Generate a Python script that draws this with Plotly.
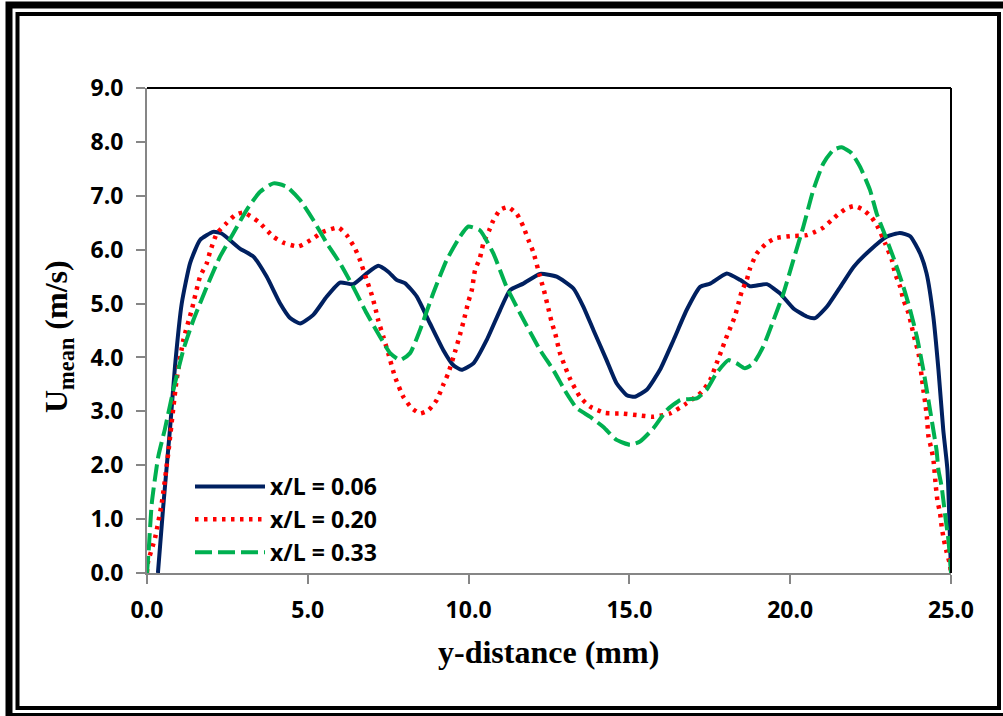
import plotly.graph_objects as go

# ---- data ----
x_006 = [0.34, 0.5, 0.72, 0.87, 1.08, 1.34, 1.65, 2.06, 2.32, 2.89, 3.31, 3.72, 4.14, 4.45, 4.76, 5.17,
         5.59, 6.0, 6.41, 6.83, 7.19, 7.50, 7.76, 8.02, 8.39, 8.80, 9.21, 9.52, 9.78, 10.15, 10.56,
         10.98, 11.29, 11.70, 12.22, 12.74, 13.26, 13.57, 13.88, 14.29, 14.60, 14.92, 15.17, 15.54,
         15.95, 16.37, 16.78, 17.20, 17.51, 18.03, 18.44, 18.75, 19.27, 19.68, 20.10, 20.51, 20.77,
         21.14, 21.56, 21.97, 22.48, 23.0, 23.41, 23.73, 24.04, 24.24, 24.45, 24.61, 24.76, 24.89, 25.0]
u_006 = [0.0, 1.2, 2.71, 3.83, 5.0, 5.75, 6.18, 6.33, 6.30, 6.02, 5.87, 5.50, 5.0, 4.73, 4.63, 4.79,
         5.13, 5.39, 5.36, 5.56, 5.70, 5.59, 5.44, 5.38, 5.13, 4.63, 4.14, 3.86, 3.77, 3.89, 4.32,
         4.88, 5.25, 5.37, 5.55, 5.50, 5.28, 4.94, 4.51, 3.95, 3.52, 3.30, 3.27, 3.40,
         3.77, 4.32, 4.88, 5.31, 5.37, 5.56, 5.44, 5.32, 5.36, 5.19, 4.91, 4.76, 4.73,
         4.94, 5.31, 5.68, 5.99, 6.24, 6.31, 6.25, 5.93, 5.56, 4.76, 3.77, 2.65, 1.91, 0.0]

x_020 = [0.0, 0.03, 0.25, 0.46, 0.66, 0.92, 1.13, 1.39, 1.65, 1.86, 1.96, 2.17, 2.47, 2.74, 3.0, 3.46,
         3.93, 4.24, 4.71, 5.17, 5.48, 5.95, 6.21, 6.47, 6.62, 6.83, 6.99, 7.09, 7.19, 7.35, 7.50,
         7.71, 7.97, 8.23, 8.49, 8.75, 9.01, 9.21, 9.37, 9.58, 9.73, 9.84, 9.99, 10.10, 10.20, 10.35,
         10.46, 10.64, 10.75, 10.98, 11.23, 11.50, 11.70, 11.86, 12.01, 12.22, 12.34, 12.48, 12.58,
         12.69, 12.84, 13.0, 13.15, 13.46, 13.77, 14.24, 14.76, 15.23, 15.74, 16.26, 16.78, 17.25,
         17.51, 17.71, 17.87, 18.0, 18.15, 18.28, 18.39, 18.49, 18.65, 18.75, 18.96, 19.27, 19.53,
         19.99, 20.51, 20.77, 21.03, 21.29, 21.50, 21.76, 22.01, 22.27, 22.53, 22.74, 22.95, 23.16,
         23.26, 23.42, 23.52, 23.68, 23.78, 23.88, 23.99, 24.04, 24.09, 24.14, 24.20, 24.25, 24.30,
         24.40, 24.46, 24.53, 24.58, 24.66, 24.71, 24.78, 24.86, 24.97, 25.0]
u_020 = [0.0, 0.2, 0.65, 1.3, 2.22, 3.58, 4.32, 4.88, 5.50, 5.75, 5.96, 6.30, 6.49, 6.64, 6.69, 6.52,
         6.24, 6.13, 6.06, 6.21, 6.33, 6.41, 6.27, 6.02, 5.81, 5.44, 5.16, 4.94, 4.69, 4.38, 4.08,
         3.64, 3.27, 3.06, 2.96, 3.02, 3.21, 3.49, 3.71, 4.11, 4.42, 4.66, 5.03, 5.25, 5.62, 5.84,
         6.12, 6.36, 6.52, 6.74, 6.79, 6.66, 6.43, 6.18, 5.96, 5.50, 5.25, 4.91, 4.66,
         4.45, 4.08, 3.83, 3.61, 3.27, 3.09, 2.97, 2.96, 2.93, 2.90, 2.96, 3.15, 3.36,
         3.58, 3.89, 4.14, 4.35, 4.57, 4.76, 5.0, 5.22, 5.44, 5.65, 5.93, 6.12, 6.21,
         6.25, 6.27, 6.33, 6.41, 6.55, 6.66, 6.77, 6.81, 6.74, 6.60, 6.40, 6.12, 5.81,
         5.56, 5.31, 5.07, 4.82, 4.57, 4.32, 4.08, 3.86, 3.64, 3.40, 3.15, 2.90, 2.53,
         2.28, 2.07, 1.60, 1.34, 1.11, 0.86, 0.61, 0.40, 0.15, 0.0]

x_033 = [0.0, 0.05, 0.15, 0.35, 0.56, 0.82, 1.13, 1.44, 1.86, 2.27, 2.68, 3.10, 3.51, 3.93, 4.34, 4.76,
         5.17, 5.59, 6.0, 6.41, 6.83, 7.25, 7.56, 7.87, 8.18, 8.49, 8.90, 9.32, 9.73, 9.99, 10.35,
         10.77, 11.18, 11.60, 12.22, 12.63, 13.05, 13.36, 13.77, 14.19, 14.60, 15.02, 15.33, 15.74,
         16.16, 16.58, 17.09, 17.40, 17.71, 18.08, 18.34, 18.59, 18.86, 19.16, 19.48, 19.79, 20.10,
         20.41, 20.72, 21.03, 21.34, 21.60, 21.91, 22.17, 22.48, 22.69, 22.89, 23.20, 23.52, 23.73,
         23.94, 24.14, 24.35, 24.55, 24.61, 24.71, 24.81, 24.92, 24.99, 25.0]
u_033 = [0.0, 0.4, 1.3, 2.16, 2.68, 3.40, 4.14, 4.69, 5.31, 5.87, 6.30, 6.74, 7.07, 7.23, 7.17, 6.92,
         6.55, 6.12, 5.75, 5.31, 4.82, 4.38, 4.08, 3.95, 4.08, 4.51, 5.19, 5.81, 6.24, 6.43, 6.36,
         5.93, 5.31, 4.82, 4.14, 3.77, 3.33, 3.06, 2.90, 2.71, 2.47, 2.38, 2.44, 2.68,
         3.02, 3.21, 3.24, 3.40, 3.71, 3.95, 3.89, 3.80, 3.89, 4.20, 4.69, 5.19, 5.81,
         6.43, 7.11, 7.60, 7.85, 7.90, 7.79, 7.54, 7.11, 6.67, 6.36, 5.87, 5.31, 4.88,
         4.38, 3.77, 3.02, 2.28, 1.91, 1.60, 1.11, 0.61, 0.12, 0.0]

series_names = ["x/L = 0.06", "x/L = 0.20", "x/L = 0.33"]
x_ticks = [0, 5, 10, 15, 20, 25]
y_ticks = [0, 1, 2, 3, 4, 5, 6, 7, 8, 9]

# ---- layout geometry (pixels) ----
W, H = 1003, 716
L, R, T, B = 147, 951, 88, 573


def px(xp):
    return (xp - L) / (R - L)


def py(yp):
    return (B - yp) / (B - T)


fig = go.Figure()
fig.add_trace(go.Scatter(x=x_006, y=u_006, mode="lines", name=series_names[0], legendgroup="a",
                         line=dict(color="#002060", width=4, shape="spline", smoothing=0.5)))
fig.add_trace(go.Scatter(x=x_020, y=u_020, mode="lines", name=series_names[1], legendgroup="b",
                         line=dict(color="#FF0000", width=4.5, dash="3.5px,5.5px", shape="spline", smoothing=0.5)))
fig.add_trace(go.Scatter(x=x_033, y=u_033, mode="lines", name=series_names[2], legendgroup="c",
                         line=dict(color="#00B050", width=4, dash="17px,6px", shape="spline", smoothing=0.5)))

tickfont = dict(family="Open Sans", size=23, color="black", weight="bold")

fig.update_xaxes(range=[0, 25], tickvals=x_ticks, tickformat=".1f", showgrid=False, zeroline=False,
                 showline=True, linecolor="#868686", linewidth=2, ticks="outside", ticklen=9,
                 tickwidth=2, tickcolor="#868686", tickfont=tickfont, ticklabelstandoff=6)
fig.update_yaxes(range=[0, 9], tickvals=y_ticks, tickformat=".1f", showgrid=False, zeroline=False,
                 showline=True, linecolor="#868686", linewidth=2, ticks="outside", ticklen=9,
                 tickwidth=2, tickcolor="#868686", tickfont=tickfont, ticklabelstandoff=8)

shapes = [
    # plot-area border top/right
    dict(type="line", xref="paper", yref="paper", x0=0, x1=1, y0=1, y1=1, line=dict(color="black", width=2)),
    dict(type="line", xref="paper", yref="paper", x0=1, x1=1, y0=0, y1=1, line=dict(color="black", width=2)),
    # outer thick frame
    dict(type="rect", xref="paper", yref="paper", x0=px(9), x1=px(1010), y0=py(5), y1=py(716.5),
         line=dict(color="black", width=7)),
    # inner thin frame
    dict(type="rect", xref="paper", yref="paper", x0=px(17.5), x1=px(999), y0=py(14), y1=py(708),
         line=dict(color="black", width=4)),
]

annotations = [
    dict(text="y-distance (mm)", xref="paper", yref="paper", x=px(548), y=py(652),
         showarrow=False, xanchor="center", yanchor="middle",
         font=dict(family="Liberation Serif", size=32, color="black", weight="bold")),
    dict(text="U<sub>mean</sub> (m/s)", xref="paper", yref="paper", x=px(58), y=py(337),
         showarrow=False, xanchor="center", yanchor="middle", textangle=-90,
         font=dict(family="Liberation Serif", size=32, color="black", weight="bold")),
]

fig.update_layout(
    width=W, height=H,
    margin=dict(l=L, r=W - R, t=T, b=H - B, pad=0),
    paper_bgcolor="white", plot_bgcolor="white",
    shapes=shapes, annotations=annotations,
    showlegend=True,
    legend=dict(x=px(190), y=py(465), xanchor="left", yanchor="top", bgcolor="rgba(0,0,0,0)",
                font=dict(family="Open Sans", size=23, color="black", weight="bold"),
                itemwidth=70, tracegroupgap=0),
)

fig.write_html("out.html", config={"displayModeBar": False},
               post_script="document.body.style.margin='0';document.body.style.overflow='hidden';")
